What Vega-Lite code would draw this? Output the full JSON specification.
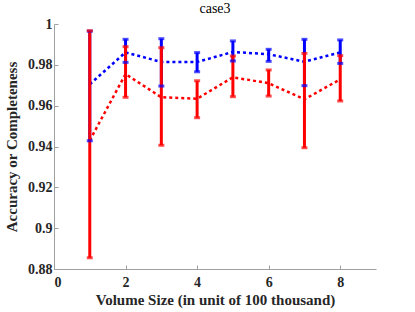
{
  "$schema": "https://vega.github.io/schema/vega-lite/v6.json",
  "width": 322,
  "height": 245,
  "autosize": "none",
  "padding": {"left": 54, "top": 24, "right": 39, "bottom": 43},
  "background": "white",
  "title": {"text": "case3", "font": "Liberation Serif", "fontSize": 14, "fontWeight": "normal", "color": "#000000", "offset": 1},
  "config": {
    "view": {"stroke": null},
    "axis": {
      "domainColor": "#a0a0a0",
      "tickColor": "#a0a0a0",
      "grid": false,
      "labelFont": "Liberation Serif",
      "labelFontWeight": "bold",
      "labelFontSize": 14,
      "labelColor": "#262626",
      "titleFont": "Liberation Serif",
      "titleFontWeight": "bold",
      "titleFontSize": 15,
      "titleColor": "#262626",
      "tickSize": -4
    }
  },
  "data": {
    "values": [
      {"series": "Accuracy", "size": 1, "mean": 0.9705, "lo": 0.9428, "hi": 0.9965},
      {"series": "Accuracy", "size": 2, "mean": 0.9861, "lo": 0.9812, "hi": 0.9925},
      {"series": "Accuracy", "size": 3, "mean": 0.9814, "lo": 0.9696, "hi": 0.9928},
      {"series": "Accuracy", "size": 4, "mean": 0.9814, "lo": 0.9766, "hi": 0.9860},
      {"series": "Accuracy", "size": 5, "mean": 0.9863, "lo": 0.9819, "hi": 0.9917},
      {"series": "Accuracy", "size": 6, "mean": 0.9852, "lo": 0.9817, "hi": 0.9876},
      {"series": "Accuracy", "size": 7, "mean": 0.9815, "lo": 0.9698, "hi": 0.9925},
      {"series": "Accuracy", "size": 8, "mean": 0.9861, "lo": 0.9807, "hi": 0.9922},
      {"series": "Completeness", "size": 1, "mean": 0.9430, "lo": 0.8855, "hi": 0.9967},
      {"series": "Completeness", "size": 2, "mean": 0.9755, "lo": 0.9641, "hi": 0.9889},
      {"series": "Completeness", "size": 3, "mean": 0.9641, "lo": 0.9406, "hi": 0.9884},
      {"series": "Completeness", "size": 4, "mean": 0.9634, "lo": 0.9541, "hi": 0.9722},
      {"series": "Completeness", "size": 5, "mean": 0.9739, "lo": 0.9644, "hi": 0.9843},
      {"series": "Completeness", "size": 6, "mean": 0.9710, "lo": 0.9647, "hi": 0.9775},
      {"series": "Completeness", "size": 7, "mean": 0.9631, "lo": 0.9394, "hi": 0.9856},
      {"series": "Completeness", "size": 8, "mean": 0.9729, "lo": 0.9623, "hi": 0.9845}
    ]
  },
  "encoding": {
    "x": {
      "field": "size", "type": "quantitative",
      "scale": {"domain": [0, 9], "nice": false},
      "axis": {"values": [0, 2, 4, 6, 8], "title": "Volume Size (in unit of 100 thousand)", "labelPadding": 10, "titlePadding": 3, "labelFontWeight": "bold", "labelFontSize": 14}
    },
    "color": {
      "field": "series", "type": "nominal",
      "scale": {"domain": ["Accuracy", "Completeness"], "range": ["#0000ff", "#ff0000"]},
      "legend": null
    }
  },
  "layer": [
    {
      "mark": {"type": "line", "strokeWidth": 2.5, "strokeDash": [3, 3]},
      "encoding": {
        "y": {
          "field": "mean", "type": "quantitative",
          "scale": {"domain": [0.88, 1], "nice": false, "zero": false},
          "axis": {"values": [0.88, 0.9, 0.92, 0.94, 0.96, 0.98, 1], "format": "~g", "title": "Accuracy or Completeness", "labelPadding": 6, "titlePadding": 8, "labelFontWeight": "bold", "labelFontSize": 14}
        },
        "order": {"field": "series"}
      }
    },
    {
      "mark": {"type": "rule", "strokeWidth": 3},
      "encoding": {
        "y": {"field": "lo", "type": "quantitative"},
        "y2": {"field": "hi"}
      }
    },
    {
      "mark": {"type": "tick", "orient": "horizontal", "thickness": 3, "size": 6},
      "encoding": {"y": {"field": "lo", "type": "quantitative"}}
    },
    {
      "mark": {"type": "tick", "orient": "horizontal", "thickness": 3, "size": 6},
      "encoding": {"y": {"field": "hi", "type": "quantitative"}}
    }
  ]
}
